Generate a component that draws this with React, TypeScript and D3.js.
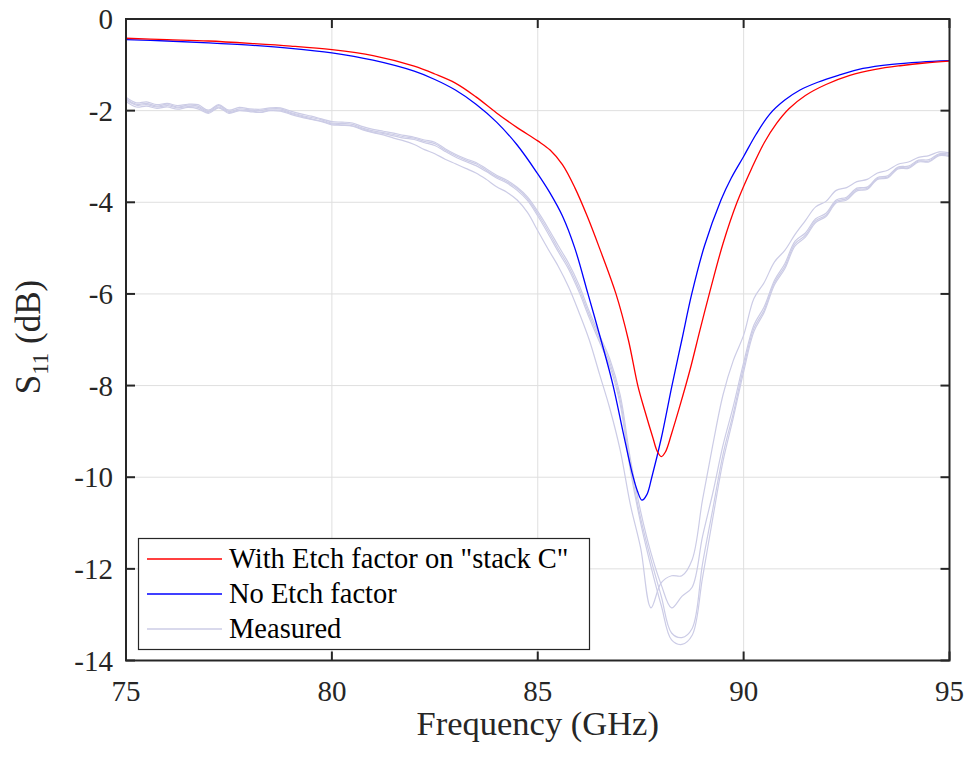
import React from 'react';
import * as d3 from 'd3';

const xTicks = [75, 80, 85, 90, 95];
const yTicks = [0, -2, -4, -6, -8, -10, -12, -14];

const redFreq = [75, 76, 77, 78, 79, 80, 81, 82, 82.5, 83, 83.5, 84, 84.5, 85, 85.3, 85.6, 85.9, 86.2, 86.5, 86.9, 87.2, 87.43, 87.6, 87.8, 87.9, 88.0, 88.1, 88.25, 88.45, 88.7, 88.95, 89.18, 89.5, 89.84, 90.2, 90.5, 90.8, 91.1, 91.5, 92, 92.58, 93.2, 93.8, 94.4, 95];
const redS11 = [-0.42, -0.45, -0.48, -0.53, -0.59, -0.67, -0.8, -1.03, -1.2, -1.4, -1.7, -2.05, -2.37, -2.66, -2.86, -3.18, -3.68, -4.3, -5.0, -6.0, -7.0, -8.0, -8.55, -9.15, -9.43, -9.55, -9.45, -9.05, -8.45, -7.65, -6.75, -5.95, -4.9, -4.0, -3.25, -2.7, -2.28, -1.96, -1.67, -1.43, -1.23, -1.1, -1.02, -0.96, -0.92];

const blueFreq = [75, 76, 77, 78, 79, 80, 81, 82, 82.5, 83, 83.5, 84, 84.5, 85, 85.3, 85.6, 85.9, 86.22, 86.55, 86.83, 87.08, 87.29, 87.42, 87.53, 87.65, 87.77, 88.0, 88.26, 88.5, 88.74, 89.05, 89.45, 89.7, 90.0, 90.3, 90.64, 91.0, 91.37, 91.8, 92.3, 92.9, 93.6, 94.3, 95];
const blueS11 = [-0.45, -0.48, -0.52, -0.57, -0.64, -0.74, -0.9, -1.14, -1.32, -1.55, -1.86, -2.25, -2.75, -3.38, -3.8, -4.3, -5.0, -6.0, -7.05, -8.0, -9.05, -9.9, -10.3, -10.5, -10.38, -10.0, -9.15, -8.0, -7.0, -6.0, -4.95, -3.95, -3.47, -3.0, -2.52, -2.07, -1.77, -1.55, -1.38, -1.23, -1.08, -0.99, -0.94, -0.91];

const measFreq = [
  75, 75.25, 75.5, 75.75, 76, 76.25, 76.5, 76.75, 77, 77.25, 77.5, 77.75, 78, 78.25, 78.5, 78.75,
  79, 79.25, 79.5, 79.75, 80, 80.25, 80.5, 80.75, 81, 81.25, 81.5, 81.75, 82, 82.25, 82.5, 82.75,
  83, 83.25, 83.5, 83.75, 84, 84.25, 84.5, 84.75, 85, 85.25, 85.5, 85.75, 86, 86.25, 86.5, 86.75,
  87, 87.25, 87.5, 87.75, 88, 88.25, 88.5, 88.75, 89, 89.25, 89.5, 89.75, 90, 90.25, 90.5, 90.75,
  91, 91.25, 91.5, 91.75, 92, 92.25, 92.5, 92.75, 93, 93.25, 93.5, 93.75, 94, 94.25, 94.5, 94.75, 95,
];

const measA = [
  -1.80, -1.92, -1.90, -1.95, -1.92, -1.97, -1.93, -1.96, -2.06, -1.94, -2.06, -2.00, -2.02, -2.04, -2.00, -2.01,
  -2.08, -2.14, -2.19, -2.24, -2.31, -2.32, -2.34, -2.42, -2.48, -2.53, -2.60, -2.66, -2.74, -2.85, -2.94, -3.06,
  -3.16, -3.26, -3.36, -3.50, -3.66, -3.78, -3.95, -4.22, -4.62, -5.02, -5.40, -5.85, -6.40, -7.00, -7.75, -8.50,
  -9.40, -10.60, -11.55, -12.85, -12.30, -12.15, -12.15, -11.80, -10.50, -9.30, -8.20, -7.45, -6.90, -6.10, -5.75, -5.30,
  -5.05, -4.70, -4.40, -4.10, -3.98, -3.74, -3.68, -3.55, -3.50, -3.36, -3.30, -3.17, -3.12, -3.02, -2.98, -2.90, -2.92,
];

const measB = [
  -1.71, -1.83, -1.81, -1.87, -1.84, -1.89, -1.86, -1.87, -1.99, -1.87, -1.99, -1.93, -1.96, -1.97, -1.94, -1.94,
  -2.01, -2.07, -2.12, -2.18, -2.24, -2.25, -2.27, -2.35, -2.41, -2.45, -2.49, -2.54, -2.58, -2.64, -2.69, -2.83,
  -2.95, -3.05, -3.13, -3.27, -3.41, -3.52, -3.67, -3.88, -4.20, -4.56, -4.95, -5.33, -5.80, -6.38, -6.90, -7.42,
  -8.20, -9.60, -10.75, -11.65, -12.35, -12.85, -12.60, -12.40, -11.30, -10.35, -9.30, -8.45, -7.50, -6.68, -6.28, -5.70,
  -5.34, -4.85, -4.67, -4.36, -4.24, -3.95, -3.89, -3.69, -3.67, -3.46, -3.42, -3.23, -3.21, -3.08, -3.07, -2.94, -2.95,
];

const measC = [
  -1.74, -1.86, -1.84, -1.90, -1.86, -1.92, -1.88, -1.90, -2.02, -1.89, -2.02, -1.96, -1.98, -2.00, -1.96, -1.96,
  -2.04, -2.10, -2.15, -2.20, -2.27, -2.28, -2.30, -2.38, -2.44, -2.48, -2.52, -2.57, -2.60, -2.67, -2.72, -2.86,
  -2.98, -3.08, -3.16, -3.30, -3.44, -3.55, -3.70, -3.92, -4.25, -4.62, -5.02, -5.40, -5.88, -6.45, -6.98, -7.50,
  -8.30, -9.75, -10.90, -11.80, -12.60, -13.40, -13.50, -13.30, -11.90, -10.70, -9.50, -8.60, -7.60, -6.75, -6.35, -5.75,
  -5.40, -4.90, -4.72, -4.40, -4.28, -3.98, -3.92, -3.72, -3.70, -3.48, -3.45, -3.25, -3.24, -3.10, -3.10, -2.96, -2.98,
];

const measD = [
  -1.77, -1.88, -1.87, -1.92, -1.89, -1.94, -1.91, -1.93, -2.04, -1.92, -2.04, -1.99, -2.00, -2.03, -1.99, -1.99,
  -2.06, -2.12, -2.18, -2.23, -2.29, -2.31, -2.33, -2.40, -2.47, -2.50, -2.55, -2.60, -2.63, -2.70, -2.76, -2.89,
  -3.01, -3.11, -3.20, -3.33, -3.47, -3.58, -3.74, -3.96, -4.30, -4.68, -5.08, -5.46, -5.95, -6.52, -7.05, -7.58,
  -8.40, -9.85, -11.00, -11.95, -12.80, -13.55, -13.65, -13.45, -12.20, -10.90, -9.65, -8.70, -7.70, -6.82, -6.40, -5.80,
  -5.45, -4.95, -4.76, -4.44, -4.31, -4.01, -3.95, -3.75, -3.72, -3.50, -3.47, -3.27, -3.26, -3.12, -3.12, -2.98, -3.00,
];

const measuredSeries = [measA, measB, measC, measD];

const legendLabels = ['With Etch factor on "stack C"', 'No Etch factor', 'Measured'];

const RED = '#ff0000';
const BLUE = '#0000ff';
const MEAS = '#cccce6';
const AXIS = '#262626';
const GRID = '#dfdfdf';
const FONT = "'Liberation Serif', 'Times New Roman', Times, serif";

export default function App() {
  const W = 968;
  const H = 758;
  const left = 126;
  const right = 949.5;
  const top = 19;
  const bottom = 660.5;

  const x = d3.scaleLinear().domain([75, 95]).range([left, right]);
  const y = d3.scaleLinear().domain([-14, 0]).range([bottom, top]);

  const line = d3
    .line<[number, number]>()
    .x((d) => x(d[0]))
    .y((d) => y(d[1]))
    .curve(d3.curveCatmullRom.alpha(0.5));

  const zip = (f: number[], v: number[]) => f.map((fi, i) => [fi, v[i]] as [number, number]);

  const tickLen = 9;

  const legX = 138.5;
  const legY = 538.5;
  const legW = 451;
  const legH = 111;
  const rows = [
    { color: RED, label: legendLabels[0], ly: 559, ty: 568.3 },
    { color: BLUE, label: legendLabels[1], ly: 594, ty: 603.3 },
    { color: MEAS, label: legendLabels[2], ly: 629, ty: 638.3 },
  ];

  const textStyle = { fontFamily: FONT };

  return (
    <svg
      width={W}
      height={H}
      viewBox={`0 0 ${W} ${H}`}
      style={{ position: 'absolute', left: 0, top: 0, background: '#fff', fontFamily: FONT }}
    >
      <rect x={0} y={0} width={W} height={H} fill="#fff" />
      {xTicks.map((t) => (
        <line key={'gx' + t} x1={x(t)} x2={x(t)} y1={top} y2={bottom} stroke={GRID} strokeWidth={1} />
      ))}
      {yTicks.map((t) => (
        <line key={'gy' + t} x1={left} x2={right} y1={y(t)} y2={y(t)} stroke={GRID} strokeWidth={1} />
      ))}

      <g fill="none" stroke={MEAS} strokeWidth={1.2}>
        {measuredSeries.map((s, i) => (
          <path key={'m' + i} d={line(zip(measFreq, s)) || ''} />
        ))}
      </g>
      <path d={line(zip(blueFreq, blueS11)) || ''} fill="none" stroke={BLUE} strokeWidth={1.3} />
      <path d={line(zip(redFreq, redS11)) || ''} fill="none" stroke={RED} strokeWidth={1.3} />

      <rect x={left} y={top} width={right - left} height={bottom - top} fill="none" stroke={AXIS} strokeWidth={2} />
      {xTicks.map((t) => (
        <g key={'tx' + t} stroke={AXIS} strokeWidth={2}>
          <line x1={x(t)} x2={x(t)} y1={bottom} y2={bottom - tickLen} />
          <line x1={x(t)} x2={x(t)} y1={top} y2={top + tickLen} />
        </g>
      ))}
      {yTicks.map((t) => (
        <g key={'ty' + t} stroke={AXIS} strokeWidth={2}>
          <line x1={left} x2={left + tickLen} y1={y(t)} y2={y(t)} />
          <line x1={right} x2={right - tickLen} y1={y(t)} y2={y(t)} />
        </g>
      ))}

      {xTicks.map((t) => (
        <text key={'lx' + t} x={x(t)} y={701} textAnchor="middle" style={textStyle} fontSize={29} fill={AXIS}>
          {t}
        </text>
      ))}
      {yTicks.map((t) => (
        <text key={'ly' + t} x={113} y={y(t) + 10} textAnchor="end" style={textStyle} fontSize={29} fill={AXIS}>
          {t}
        </text>
      ))}

      <text x={(left + right) / 2} y={735} textAnchor="middle" style={textStyle} fontSize={34.5} fill={AXIS}>
        Frequency (GHz)
      </text>
      <text transform="rotate(-90)" x={-337} y={40} textAnchor="middle" style={textStyle} fontSize={35} fill={AXIS}>
        <tspan>S</tspan>
        <tspan fontSize={23} dy={8}>11</tspan>
        <tspan dy={-8}>{'\u00a0(dB)'}</tspan>
      </text>

      <rect x={legX} y={legY} width={legW} height={legH} fill="#fff" stroke={AXIS} strokeWidth={1.2} />
      {rows.map((r, i) => (
        <g key={'leg' + i}>
          <line x1={147} x2={222} y1={r.ly} y2={r.ly} stroke={r.color} strokeWidth={1.3} />
          <text x={229} y={r.ty} style={textStyle} fontSize={28.5} fill="#000">
            {r.label}
          </text>
        </g>
      ))}
    </svg>
  );
}
